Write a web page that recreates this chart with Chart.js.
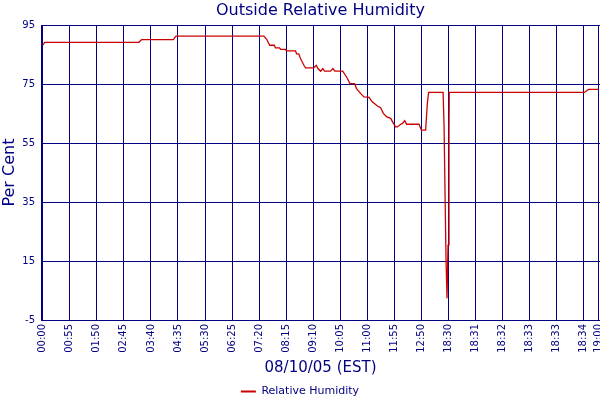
<!DOCTYPE html>
<html>
<head>
<meta charset="utf-8">
<title>Outside Relative Humidity</title>
<script src="https://cdn.jsdelivr.net/npm/chart.js@4.4.0/dist/chart.umd.min.js"></script>
<style>
  html, body { margin: 0; padding: 0; background: #fff; }
  #wrap { width: 600px; height: 400px; }
</style>
</head>
<body>
<div id="wrap"><canvas id="humChart"></canvas></div>
<script>
// x axis labels and the sample index each one sits on
const tickLabels = ['00:00', '00:55', '01:50', '02:45', '03:40', '04:35', '05:30', '06:25',
    '07:20', '08:15', '09:10', '10:05', '11:00', '11:55', '12:50', '18:30', '18:31',
    '18:32', '18:33', '18:33', '18:34', '19:00'];
const tickIdx = [0, 11, 22, 33, 44, 55, 66, 77, 88, 99, 110, 121, 132, 143, 154, 165,
    176, 187, 198, 209, 220, 226];

const yTicks = [-5, 15, 35, 55, 75, 95];

// readings (sample index, % RH) where the trace changes
const sampleIdx = [0, 0.8, 39.1, 40.2, 53.1, 54.2, 89.9, 91, 92.3, 94.2, 94.6, 96.3, 96.7,
    98.7, 99.1, 102.8, 103.2, 104.1, 104.8, 106.2, 106.9, 110.2, 111.2, 111.9, 113, 113.9,
    114.6, 117, 118, 118.8, 122, 123.8, 124.9, 126.8, 127.6, 129.3, 130.6, 132.7, 134,
    136.1, 137.4, 138.5, 139.9, 141.5, 142.6, 143.5, 144.2, 145.6, 146.3, 147.2, 148, 153,
    154, 155.7, 156.4, 156.9, 162.8, 163.2, 163.6, 164, 164.4, 164.8, 165.2, 165.3, 220.2,
    221.9, 226];
const humidity = [88.2, 89.2, 89.2, 90.1, 90.1, 91.3, 91.3, 90.3, 88.2, 88.2, 87.3, 87.3,
    86.8, 86.8, 86.3, 86.3, 85.3, 85.3, 83.7, 81.4, 80.5, 80.5, 81.4, 80.3, 79.4, 80.3, 79.4,
    79.4, 80.3, 79.4, 79.4, 77.1, 75.2, 75.2, 73.5, 71.8, 70.7, 70.5, 69, 67.6, 67, 65.1,
    63.9, 63.4, 61.7, 60.5, 60.5, 61.4, 61.7, 62.6, 61.4, 61.4, 59.4, 59.4, 68.5, 72.2, 72.2,
    60.5, 37.3, 15, 2.4, 20.4, 60, 72.2, 72.2, 73.2, 73.2];

const NAVY = '#000080';
const FONT = 'DejaVu Sans';

function loadChart() {
    const points = sampleIdx.map((x, i) => ({ x: x, y: humidity[i] }));
    const ctx = document.getElementById('humChart').getContext('2d');

    new Chart(ctx, {
        type: 'line',
        data: {
            datasets: [{
                label: 'Relative Humidity',
                data: points,
                borderColor: '#cc0000',
                backgroundColor: '#cc0000',
                borderWidth: 1.3,
                pointRadius: 0,
                tension: 0,
                fill: false
            }]
        },
        options: {
            responsive: true,
            maintainAspectRatio: false,
            animation: false,
            // legend box has 10px of slack under it, push it down past the edge
            layout: { padding: { top: 0, left: 0, right: 0, bottom: -7 } },
            plugins: {
                title: {
                    display: true,
                    fullSize: false,        // centre over the plot, not the canvas
                    text: 'Outside Relative Humidity',
                    color: NAVY,
                    font: { family: FONT, size: 16, weight: 'normal' },
                    padding: { top: 1, bottom: 5 }
                },
                legend: {
                    position: 'bottom',
                    labels: {
                        color: NAVY,
                        font: { family: FONT, size: 11 },
                        usePointStyle: true,
                        pointStyle: 'line',
                        pointStyleWidth: 15,
                        padding: 3,
                        // legend swatch is drawn a bit heavier than the trace
                        generateLabels: (chart) => {
                            const items = Chart.defaults.plugins.legend.labels.generateLabels(chart);
                            items.forEach(item => { item.lineWidth = 2; });
                            return items;
                        }
                    }
                },
                tooltip: { enabled: false }
            },
            scales: {
                x: {
                    type: 'linear',
                    min: -0.7,
                    max: 226.6,
                    afterBuildTicks: (scale) => {
                        // border ticks at both ends give the double frame line
                        scale.ticks = [-0.7].concat(tickIdx, [226.6]).map(v => ({ value: v }));
                    },
                    afterFit: (scale) => {
                        scale.height = 63;
                        scale.paddingLeft = 0;
                        scale.paddingRight = 0;
                    },
                    ticks: {
                        autoSkip: false,
                        minRotation: 90,
                        maxRotation: 90,
                        padding: 4,
                        color: NAVY,
                        font: { family: FONT, size: 10 },
                        callback: (v) => {
                            const i = tickIdx.indexOf(v);
                            return i >= 0 ? tickLabels[i] : '';
                        }
                    },
                    grid: { color: NAVY, lineWidth: 1, drawTicks: false },
                    border: { color: NAVY, width: 1 },
                    title: {
                        display: true,
                        text: '08/10/05 (EST)',
                        color: NAVY,
                        font: { family: FONT, size: 15 },
                        padding: { top: 0, bottom: 6 }
                    }
                },
                y: {
                    min: -5,
                    max: 95,
                    afterBuildTicks: (scale) => {
                        scale.ticks = yTicks.map(v => ({ value: v }));
                    },
                    afterFit: (scale) => {
                        scale.width = 41;
                        scale.paddingTop = 0;
                        scale.paddingBottom = 0;
                    },
                    ticks: {
                        padding: 6,
                        color: NAVY,
                        font: { family: FONT, size: 10 }
                    },
                    grid: { color: NAVY, lineWidth: 1, drawTicks: false },
                    border: { color: NAVY, width: 1 },
                    title: {
                        display: true,
                        text: 'Per Cent',
                        color: NAVY,
                        font: { family: FONT, size: 16 },
                        padding: 0
                    }
                }
            }
        }
    });
}

window.onload = () => {
    loadChart();
};
</script>
</body>
</html>
